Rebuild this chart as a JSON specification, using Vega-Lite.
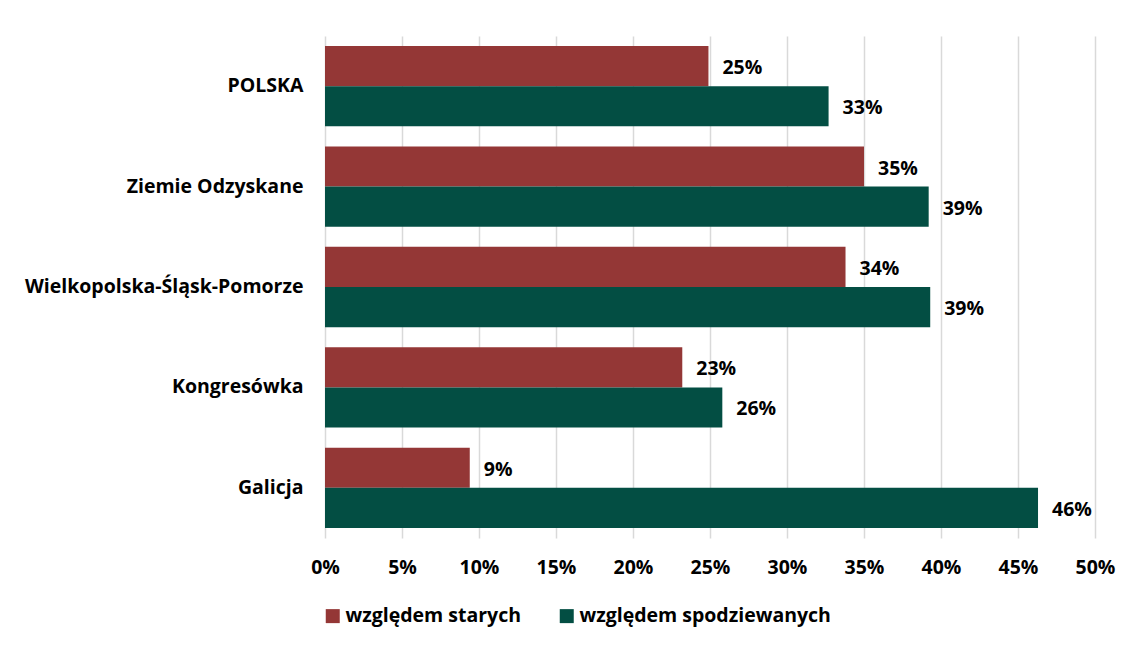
{
  "$schema": "https://vega.github.io/schema/vega-lite/v6.json",
  "width": 770,
  "height": 502,
  "autosize": {"type": "none"},
  "padding": {"left": 325, "top": 36, "right": 36, "bottom": 107},
  "background": "#ffffff",
  "data": {
    "values": [
      {"region": "POLSKA", "series": "względem starych", "value": 0.249},
      {"region": "POLSKA", "series": "względem spodziewanych", "value": 0.327},
      {"region": "Ziemie Odzyskane", "series": "względem starych", "value": 0.350},
      {"region": "Ziemie Odzyskane", "series": "względem spodziewanych", "value": 0.392},
      {"region": "Wielkopolska-Śląsk-Pomorze", "series": "względem starych", "value": 0.338},
      {"region": "Wielkopolska-Śląsk-Pomorze", "series": "względem spodziewanych", "value": 0.393},
      {"region": "Kongresówka", "series": "względem starych", "value": 0.232},
      {"region": "Kongresówka", "series": "względem spodziewanych", "value": 0.258},
      {"region": "Galicja", "series": "względem starych", "value": 0.094},
      {"region": "Galicja", "series": "względem spodziewanych", "value": 0.463}
    ]
  },
  "encoding": {
    "y": {
      "field": "region",
      "type": "nominal",
      "sort": ["POLSKA", "Ziemie Odzyskane", "Wielkopolska-Śląsk-Pomorze", "Kongresówka", "Galicja"],
      "scale": {"paddingInner": 0.2, "paddingOuter": 0.1},
      "axis": {
        "title": null,
        "domain": false,
        "ticks": false,
        "labelPadding": 22,
        "labelLimit": 400,
        "labelFont": "Open Sans",
        "labelFontWeight": "bold",
        "labelFontSize": 19.5,
        "labelColor": "#000000"
      }
    },
    "yOffset": {
      "field": "series",
      "type": "nominal",
      "sort": ["względem starych", "względem spodziewanych"],
      "scale": {"paddingInner": 0, "paddingOuter": 0}
    },
    "x": {
      "field": "value",
      "type": "quantitative",
      "scale": {"domain": [0, 0.5], "nice": false},
      "axis": {
        "title": null,
        "format": ".0%",
        "values": [0, 0.05, 0.1, 0.15, 0.2, 0.25, 0.3, 0.35, 0.4, 0.45, 0.5],
        "domain": false,
        "ticks": false,
        "grid": true,
        "gridColor": "#d9d9d9",
        "gridWidth": 1.5,
        "labelFlush": false,
        "labelPadding": 20,
        "labelFont": "Open Sans",
        "labelFontWeight": "bold",
        "labelFontSize": 19.5,
        "labelColor": "#000000"
      }
    }
  },
  "layer": [
    {
      "mark": {"type": "bar"},
      "encoding": {
        "color": {
          "field": "series",
          "type": "nominal",
          "scale": {
            "domain": ["względem starych", "względem spodziewanych"],
            "range": ["#943736", "#034e43"]
          },
          "legend": {
            "title": null,
            "orient": "none",
            "direction": "horizontal",
            "legendX": -2,
            "legendY": 570,
            "symbolType": "square",
            "symbolSize": 196,
            "symbolStrokeWidth": 0,
            "symbolOpacity": 1,
            "labelFont": "Open Sans",
            "labelFontWeight": "bold",
            "labelFontSize": 19.5,
            "labelLimit": 400,
            "labelColor": "#000000",
            "labelOffset": 3,
            "columnPadding": 36
          }
        }
      }
    },
    {
      "mark": {
        "type": "text",
        "align": "left",
        "baseline": "middle",
        "dx": 14,
        "dy": 2,
        "font": "Open Sans",
        "fontWeight": "bold",
        "fontSize": 19.5,
        "color": "#000000"
      },
      "encoding": {
        "text": {"field": "value", "type": "quantitative", "format": ".0%"}
      }
    }
  ],
  "config": {
    "view": {"stroke": null}
  }
}
